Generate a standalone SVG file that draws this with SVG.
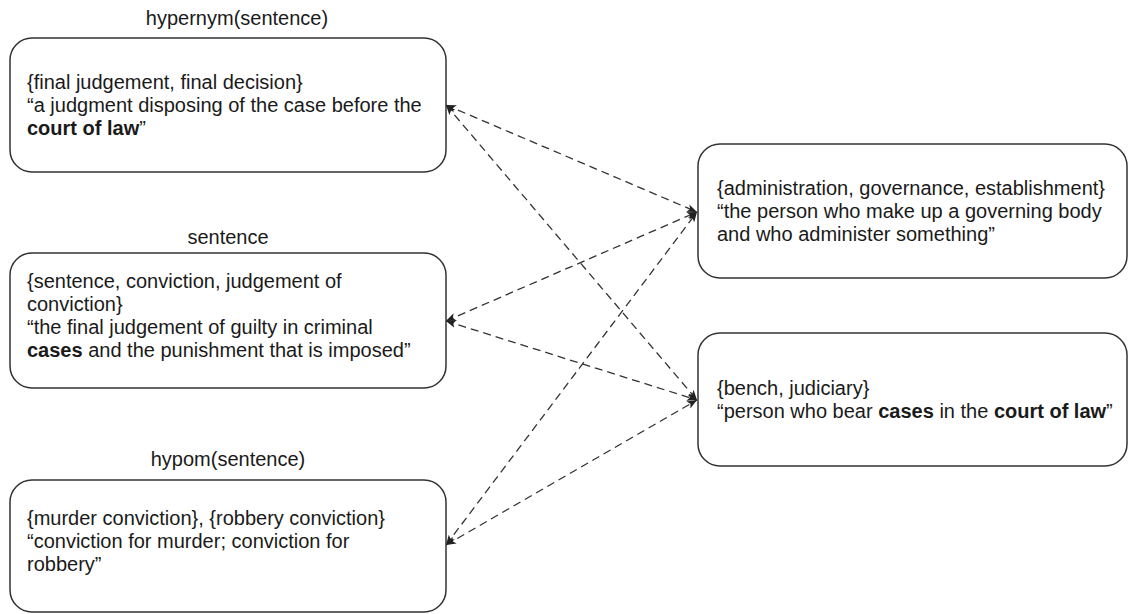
<svg xmlns="http://www.w3.org/2000/svg" width="1129" height="614" viewBox="0 0 1129 614">
<style>
.box{fill:#fff;stroke:#333;stroke-width:1.5}
.t{font-family:"Liberation Sans",Arial,sans-serif;font-size:20px;fill:#1a1a1a}
.b{font-weight:bold}
.c{stroke:#333;stroke-width:1.3;stroke-dasharray:8 5;fill:none}
.lbl{text-anchor:middle}
</style>
<defs>
<marker id="ah" viewBox="0 0 10 8" refX="10" refY="4" markerWidth="10" markerHeight="8" markerUnits="userSpaceOnUse" orient="auto-start-reverse">
<path d="M0,0 L10,4 L0,8 L2.5,4 z" fill="#222"/>
</marker>
</defs>
<rect width="1129" height="614" fill="#fff"/>
<g id="connectors">
<line class="c" x1="446" y1="105" x2="697" y2="212" marker-start="url(#ah)" marker-end="url(#ah)"/>
<line class="c" x1="446" y1="105" x2="697" y2="400" marker-start="url(#ah)" marker-end="url(#ah)"/>
<line class="c" x1="446" y1="321" x2="697" y2="212" marker-start="url(#ah)" marker-end="url(#ah)"/>
<line class="c" x1="446" y1="321" x2="697" y2="400" marker-start="url(#ah)" marker-end="url(#ah)"/>
<line class="c" x1="446" y1="545" x2="697" y2="212" marker-start="url(#ah)" marker-end="url(#ah)"/>
<line class="c" x1="446" y1="545" x2="697" y2="400" marker-start="url(#ah)" marker-end="url(#ah)"/>
</g>
<g id="hypernym">
<text class="t lbl" x="237" y="25">hypernym(sentence)</text>
<rect class="box" x="10" y="38" width="436" height="134" rx="22"/>
<text class="t" x="27" y="89">{final judgement, final decision}</text>
<text class="t" x="27" y="112">“a judgment disposing of the case before the</text>
<text class="t" x="27" y="135"><tspan class="b">court of law</tspan>”</text>
</g>
<g id="sentence">
<text class="t lbl" x="228" y="244">sentence</text>
<rect class="box" x="10" y="253" width="436" height="135" rx="22"/>
<text class="t" x="27" y="288">{sentence, conviction, judgement of</text>
<text class="t" x="27" y="311">conviction}</text>
<text class="t" x="27" y="334">“the final judgement of guilty in criminal</text>
<text class="t" x="27" y="357"><tspan class="b">cases</tspan> and the punishment that is imposed”</text>
</g>
<g id="hyponym">
<text class="t lbl" x="228" y="466">hypom(sentence)</text>
<rect class="box" x="10" y="480" width="436" height="132" rx="22"/>
<text class="t" x="27" y="525">{murder conviction}, {robbery conviction}</text>
<text class="t" x="27" y="548">“conviction for murder; conviction for</text>
<text class="t" x="27" y="571">robbery”</text>
</g>
<g id="administration">
<rect class="box" x="698" y="144" width="429" height="134" rx="22"/>
<text class="t" x="717" y="195">{administration, governance, establishment}</text>
<text class="t" x="717" y="218">“the person who make up a governing body</text>
<text class="t" x="717" y="241">and who administer something”</text>
</g>
<g id="bench">
<rect class="box" x="698" y="333" width="429" height="133" rx="22"/>
<text class="t" x="717" y="395">{bench, judiciary}</text>
<text class="t" x="717" y="418">“person who bear <tspan class="b">cases</tspan> in the <tspan class="b">court of law</tspan>”</text>
</g>
</svg>
